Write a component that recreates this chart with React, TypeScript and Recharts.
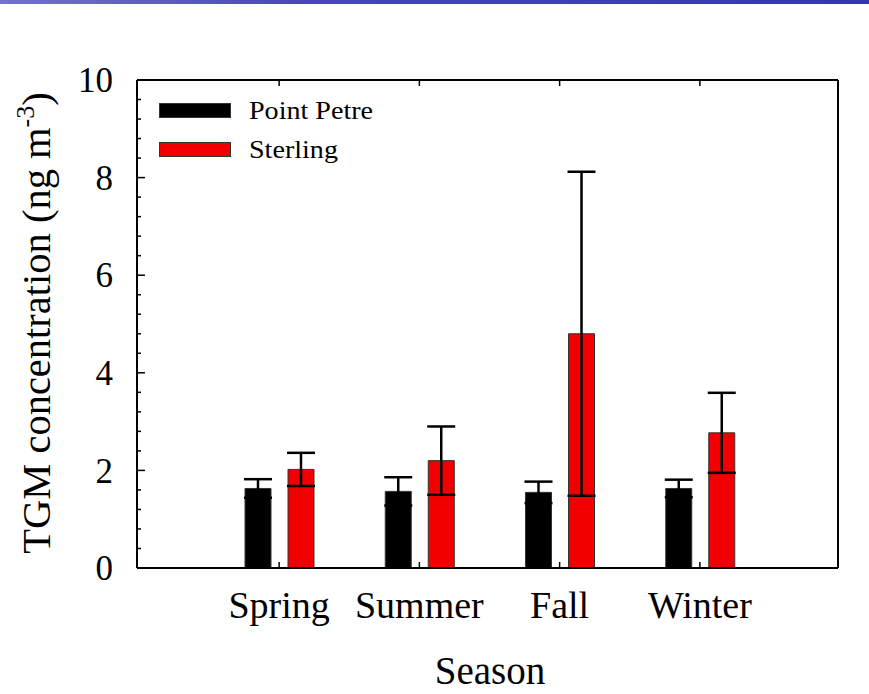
import { BarChart, Bar, XAxis, YAxis, ErrorBar, Legend, Label } from 'recharts';

const seasons = ['Spring', 'Summer', 'Fall', 'Winter'];
const pointPetre = [1.63, 1.57, 1.55, 1.63];
const pointPetreErr = [0.19, 0.29, 0.22, 0.18];
const sterling = [2.02, 2.2, 4.8, 2.77];
const sterlingErr = [0.34, 0.7, 3.32, 0.82];

const yMajorTicks = [0, 2, 4, 6, 8, 10];
const yAllTicks = [
  0, 0.4, 0.8, 1.2, 1.6, 2, 2.4, 2.8, 3.2, 3.6, 4, 4.4, 4.8, 5.2, 5.6, 6,
  6.4, 6.8, 7.2, 7.6, 8, 8.4, 8.8, 9.2, 9.6, 10,
];
const yRightTicks = yAllTicks.filter((t) => !yMajorTicks.includes(t));

const data = seasons.map((season, i) => ({
  season,
  pp: pointPetre[i],
  ppErr: pointPetreErr[i],
  st: sterling[i],
  stErr: sterlingErr[i],
}));

const FONT = '"Liberation Serif", "Times New Roman", serif';
const RED = '#f20000';

const LeftTick = ({ x, y, payload }: any) => {
  const major = yMajorTicks.includes(payload.value);
  return (
    <g>
      <line x1={x} x2={x + (major ? 8 : 4)} y1={y} y2={y} stroke="#000" strokeWidth={1.5} />
      {major && (
        <text
          x={x - 24}
          y={y}
          dy="0.35em"
          textAnchor="end"
          fontFamily={FONT}
          fontSize={35}
          fill="#000"
        >
          {payload.value}
        </text>
      )}
    </g>
  );
};

const RightTick = ({ x, y }: any) => (
  <line x1={x} x2={x - 4} y1={y} y2={y} stroke="#000" strokeWidth={1.5} />
);

const BottomTick = ({ x, y, payload }: any) => (
  <g>
    <line x1={x} x2={x} y1={y} y2={y - 6} stroke="#000" strokeWidth={1.5} />
    <text x={x} y={y + 50} textAnchor="middle" fontFamily={FONT} fontSize={38} fill="#000">
      {payload.value}
    </text>
  </g>
);

const TopTick = ({ x, y }: any) => (
  <line x1={x} x2={x} y1={y} y2={y + 6} stroke="#000" strokeWidth={1.5} />
);

const renderLegend = (props: any) => (
  <div style={{ fontFamily: FONT }}>
    {props.payload.map((item: any) => (
      <div key={item.value} style={{ display: 'flex', alignItems: 'center', height: 39 }}>
        <div
          style={{
            width: 70,
            height: 13,
            background: item.color,
            border: '1px solid #333',
          }}
        />
        <span
          style={{
            marginLeft: 18,
            fontSize: 26,
            color: '#000',
            display: 'inline-block',
            transform: 'scaleX(1.08)',
            transformOrigin: 'left center',
          }}
        >
          {item.value}
        </span>
      </div>
    ))}
  </div>
);

export default function App() {
  return (
    <div
      style={{
        position: 'fixed',
        left: 0,
        top: 0,
        width: 869,
        height: 694,
        background: '#fff',
        overflow: 'hidden',
      }}
    >
      <div
        style={{
          position: 'absolute',
          left: 0,
          top: 0,
          width: 869,
          height: 4,
          background: 'linear-gradient(90deg, #7373c9 0%, #4747bb 35%, #3535b4 100%)',
        }}
      />
      <BarChart
        width={869}
        height={694}
        data={data}
        margin={{ top: 79, right: 30, bottom: 0, left: 0 }}
        barGap={17}
      >
        <XAxis
          dataKey="season"
          xAxisId="bottom"
          height={126}
          padding={{ left: 72, right: 68 }}
          axisLine={{ stroke: '#000', strokeWidth: 2 }}
          tickLine={false}
          tickSize={0}
          tickMargin={0}
          interval={0}
          tick={<BottomTick />}
        >
          <Label
            content={() => (
              <text x={490} y={684} textAnchor="middle" fontFamily={FONT} fontSize={39} fill="#000">
                Season
              </text>
            )}
          />
        </XAxis>
        <XAxis
          dataKey="season"
          xAxisId="top"
          orientation="top"
          height={1}
          padding={{ left: 72, right: 68 }}
          axisLine={{ stroke: '#000', strokeWidth: 2 }}
          tickLine={false}
          tickSize={0}
          tickMargin={0}
          interval={0}
          tick={<TopTick />}
        />
        <YAxis
          yAxisId="left"
          width={137}
          domain={[0, 10]}
          ticks={yAllTicks}
          interval={0}
          axisLine={{ stroke: '#000', strokeWidth: 2 }}
          tickLine={false}
          tickSize={0}
          tickMargin={0}
          tick={<LeftTick />}
        >
          <Label
            content={() => (
              <text
                transform="translate(50, 323) rotate(-90)"
                textAnchor="middle"
                fontFamily={FONT}
                fontSize={40.5}
                fill="#000"
              >
                TGM concentration (ng m
                <tspan dy={-16} fontSize={26}>-3</tspan>
                <tspan dy={16}>)</tspan>
              </text>
            )}
          />
        </YAxis>
        <YAxis
          yAxisId="right"
          orientation="right"
          width={1}
          type="number"
          domain={[0, 10]}
          ticks={yRightTicks}
          interval={0}
          axisLine={{ stroke: '#000', strokeWidth: 2 }}
          tickLine={false}
          tickSize={0}
          tickMargin={0}
          tick={<RightTick />}
        />
        <Legend
          layout="vertical"
          verticalAlign="middle"
          align="center"
          content={renderLegend}
          wrapperStyle={{ top: 91, left: 159, width: 260, height: 78 }}
        />
        <Bar
          dataKey="pp"
          name="Point Petre"
          xAxisId="bottom"
          yAxisId="left"
          fill="#000"
          stroke="#333"
          strokeWidth={1}
          barSize={26}
          isAnimationActive={false}
        >
          <ErrorBar dataKey="ppErr" width={14} stroke="#000" strokeWidth={2.5} direction="y" isAnimationActive={false} />
        </Bar>
        <Bar
          dataKey="st"
          name="Sterling"
          xAxisId="bottom"
          yAxisId="left"
          fill={RED}
          stroke="#333"
          strokeWidth={1}
          barSize={26}
          isAnimationActive={false}
        >
          <ErrorBar dataKey="stErr" width={14} stroke="#000" strokeWidth={2.5} direction="y" isAnimationActive={false} />
        </Bar>
      </BarChart>
    </div>
  );
}
